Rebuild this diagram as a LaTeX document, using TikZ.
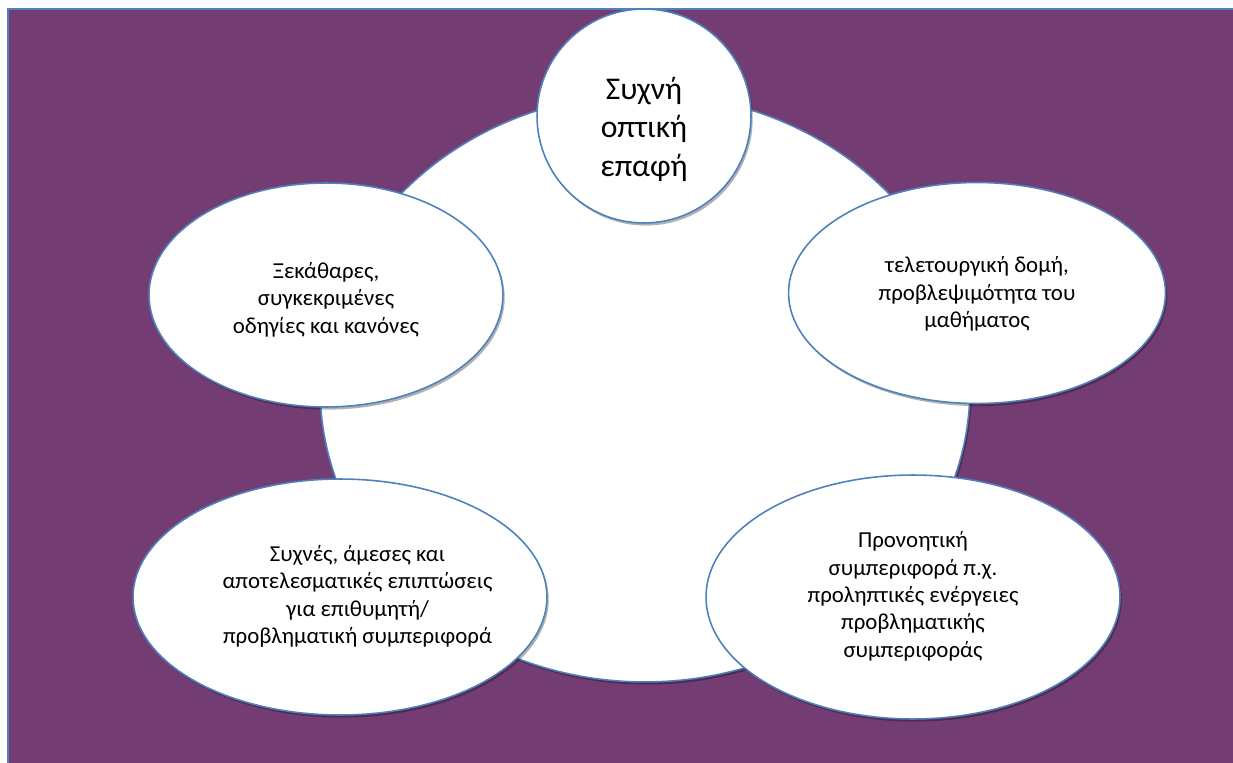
\documentclass[tikz,border=0pt]{standalone}
\usepackage{fontspec}
\setmainfont{Carlito}
\usepackage{xcolor}
\usetikzlibrary{positioning, shapes.geometric, shadows}

\definecolor{plum}{HTML}{733D73}
\definecolor{edgeblue}{HTML}{4F81BD}

% centred lines, moved by (#1, #2) inside their shape
\newcommand{\nudge}[3]{\raisebox{#2}[\height][\depth]{\kern#1\begin{tabular}{@{}c@{}}#3\end{tabular}\kern-#1}}

\begin{document}
\begin{tikzpicture}[x=0.02cm, y=-0.02cm,
      hub/.style={ellipse, draw=edgeblue, fill=white, line width=0.9pt, inner sep=0pt,
        drop shadow={shadow xshift=1pt, shadow yshift=-1.5pt, opacity=0.3, fill=black}},
      bubble/.style={hub, font=\fontsize{13}{15.6}\selectfont},
      eyebox/.style={hub, circle, font=\fontsize{18}{22}\selectfont}
    ]
      \useasboundingbox (0,0) rectangle (1233,763);
      % Background
      \begin{scope}
        \clip (0,0) rectangle (1233,763);
        \path[fill=plum, draw=edgeblue, line width=1.2pt] (8,9) rectangle (1260,790);
      \end{scope}

      % Centre
      \node[hub, minimum width=13cm, minimum height=11.76cm] (hub) at (645,388) {};

      % Bubbles
      \node[bubble, minimum width=7.08cm, minimum height=4.48cm] (rules) at (326,295) {
        \nudge{0pt}{-3pt}{Ξεκάθαρες,\\
        συγκεκριμένες\\
        οδηγίες και κανόνες}
      };

      \node[bubble, minimum width=7.54cm, minimum height=4.42cm] (routine) at (977,293) {
        \nudge{0pt}{-1pt}{τελετουργική δομή,\\
        προβλεψιμότητα του\\
        μαθήματος}
      };

      \node[bubble, minimum width=8.28cm, minimum height=4.72cm] (feedback) at (340,597) {
        \nudge{0.35cm}{0pt}{Συχνές, άμεσες και\\
        αποτελεσματικές επιπτώσεις\\
        για επιθυμητή/\\
        προβληματική συμπεριφορά}
      };

      \node[bubble, minimum width=8.28cm, minimum height=4.88cm] (proactive) at (913,597) {
        \nudge{0pt}{0pt}{Προνοητική\\
        συμπεριφορά π.χ.\\
        προληπτικές ενέργειες\\
        προβληματικής\\
        συμπεριφοράς}
      };

      \node[eyebox, minimum size=4.28cm] (eye) at (644,116) {
        \nudge{0pt}{-8pt}{Συχνή\\
        οπτική\\
        επαφή}
      };
    \end{tikzpicture}
\end{document}
